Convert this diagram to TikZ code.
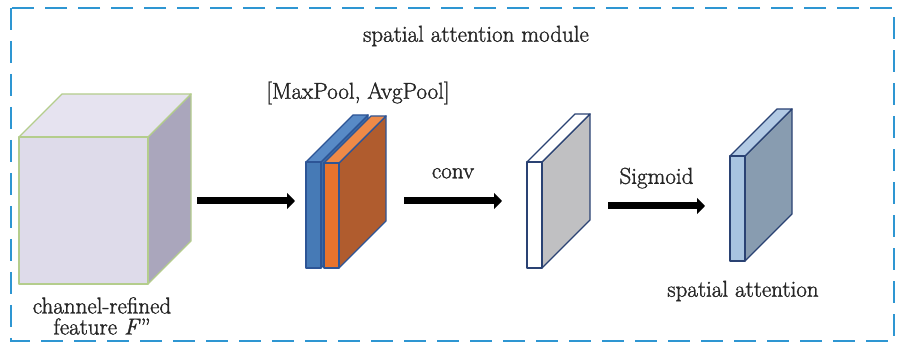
\documentclass[tikz,border=0pt]{standalone}
\usepackage{fontspec}
\setmainfont{Latin Modern Roman}[FakeBold=1.4]
\usepackage{tikz}
\usetikzlibrary{arrows.meta}
\definecolor{framec}{RGB}{46,150,210}
\definecolor{cubefront}{RGB}{222,219,234}
\definecolor{cubetop}{RGB}{230,227,240}
\definecolor{cubeside}{RGB}{170,166,188}
\definecolor{cubeedge}{RGB}{180,205,140}
\definecolor{maxfront}{RGB}{70,122,182}
\definecolor{maxtop}{RGB}{88,138,198}
\definecolor{maxside}{RGB}{60,105,165}
\definecolor{maxedge}{RGB}{45,85,150}
\definecolor{avgfront}{RGB}{232,115,45}
\definecolor{avgtop}{RGB}{238,138,72}
\definecolor{avgside}{RGB}{176,92,46}
\definecolor{avgedge}{RGB}{45,85,150}
\definecolor{convfront}{RGB}{255,255,255}
\definecolor{convtop}{RGB}{255,255,255}
\definecolor{convside}{RGB}{192,192,194}
\definecolor{convedge}{RGB}{42,66,115}
\definecolor{attfront}{RGB}{168,196,224}
\definecolor{atttop}{RGB}{178,202,228}
\definecolor{attside}{RGB}{136,156,176}
\definecolor{attedge}{RGB}{42,66,115}
\tikzset{label text/.style={font=\fontsize{23}{21}\selectfont, text=black!85, inner sep=0pt}, flow/.style={line width=7pt, -{Triangle[length=8pt,width=16pt]}}}
% box: x, y (front top left), width, height, depth, colour prefix
\newcommand{\prism}[6]{%
\filldraw[fill=#6side, draw=#6edge, line width=1.4pt, line join=round] (#1+#3,#2) -- ++(#5,-#5) -- ++(0,#4) -- ++(-#5,#5) -- cycle;
\filldraw[fill=#6top, draw=#6edge, line width=1.4pt, line join=round] (#1,#2) -- ++(#5,-#5) -- ++(#3,0) -- ++(-#5,#5) -- cycle;
\filldraw[fill=#6front, draw=#6edge, line width=1.4pt, line join=round] (#1,#2) rectangle ++(#3,#4);
}

\begin{document}
\begin{tikzpicture}[x=1pt,y=-1pt]
\useasboundingbox (0,0) rectangle (898,344);
\draw[framec, line width=2.5pt, dash pattern=on 22pt off 11pt] (11,8) rectangle (894,341);

\node[label text] (title) at (476,36) {spatial attention module};

% input feature
\prism{19}{137}{129}{147}{43}{cube}
\node[label text, align=center] (feat) at (102,316) {channel-refined\\feature \textit{F}''};

% pooled maps
\prism{306}{162}{15}{106}{47}{max}
\prism{324}{163}{15}{105}{47}{avg}
\node[label text] (pool) at (358,93) {[MaxPool, AvgPool]};

% conv map
\prism{527}{162}{15}{106}{48}{conv}

% spatial attention map
\prism{730}{156}{15}{105}{47}{att}
\node[label text] (att) at (743,291) {spatial attention};

\coordinate (cube-out) at (197,201);
\coordinate (pool-in) at (295,201);
\coordinate (pool-out) at (404,201);
\coordinate (conv-in) at (502,201);
\coordinate (conv-out) at (608,206);
\coordinate (att-in) at (705,206);

\draw[flow] (cube-out) -- (pool-in);
\draw[flow] (pool-out) -- (conv-in) node[label text, midway, above=19pt] (convlbl) {conv};
\draw[flow] (conv-out) -- (att-in) node[label text, midway, above=14pt] (siglbl) {Sigmoid};
\end{tikzpicture}
\end{document}
